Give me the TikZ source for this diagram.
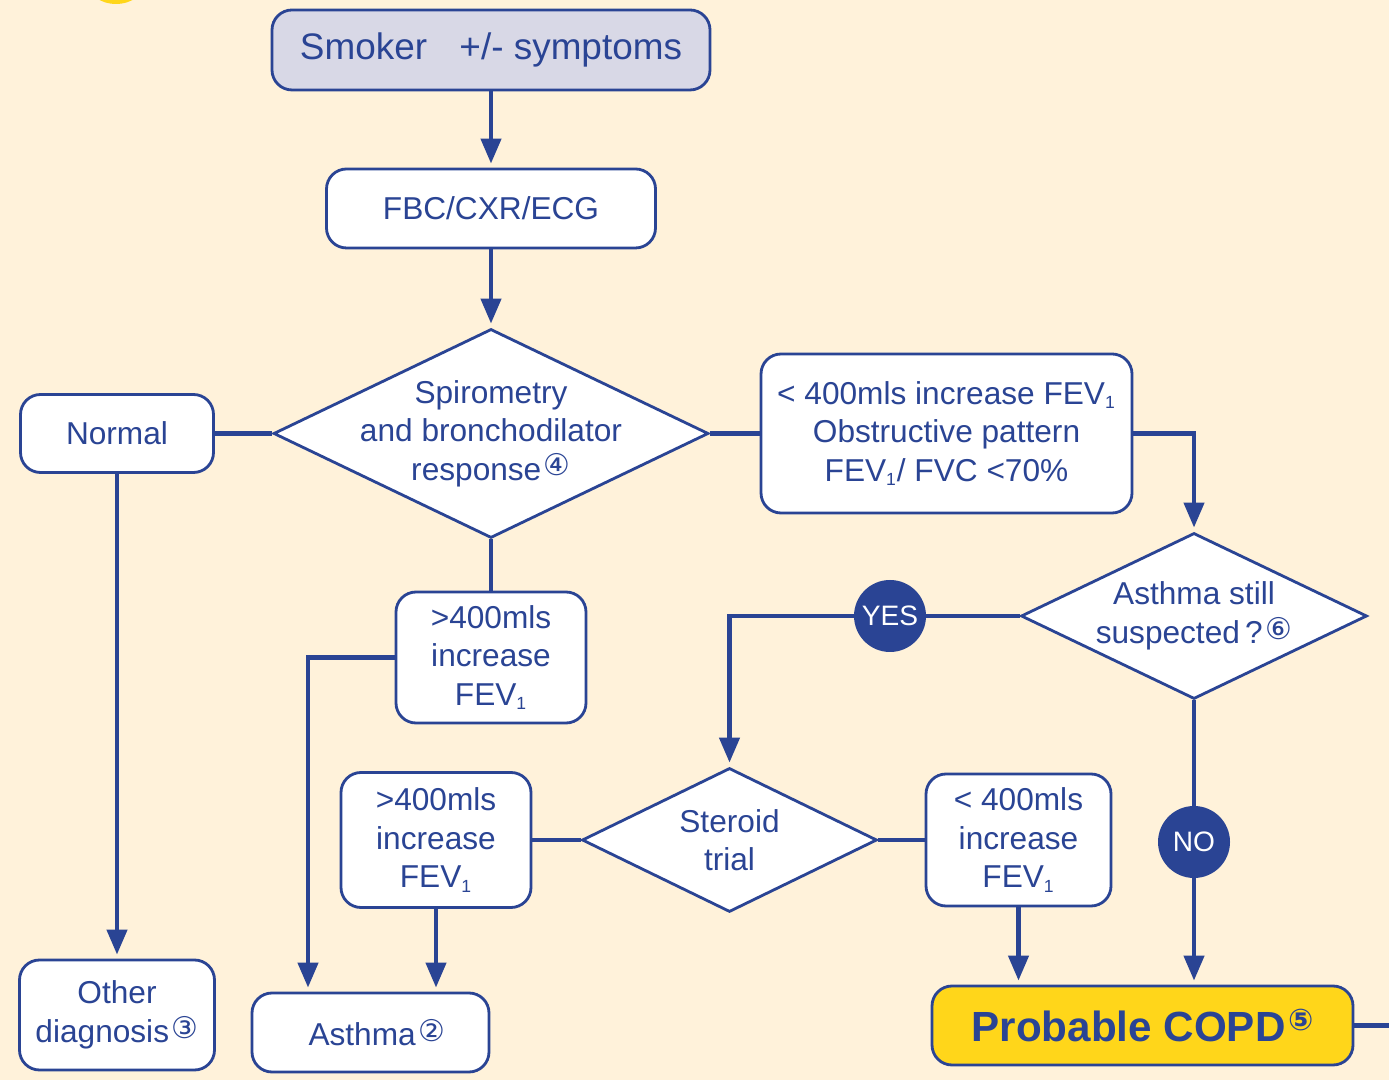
\documentclass[tikz,border=0pt]{standalone}
\usepackage{fontspec}
\setmainfont{Liberation Sans}
\newfontfamily\symfont{DejaVu Sans}
\usetikzlibrary{shapes.geometric, arrows.meta, positioning}
\definecolor{navy}{HTML}{2A4494}
\definecolor{cream}{HTML}{FFF2DA}
\definecolor{copdyellow}{HTML}{FFD61A}
\definecolor{lilac}{HTML}{D8D8E6}
\newcommand{\circnum}[1]{\kern1.5pt\raisebox{2.5pt}{\symfont\fontsize{17}{17}\selectfont#1}}
\newcommand{\one}{\textsubscript{\fontsize{10}{10}\selectfont 1}}

\begin{document}
\begin{tikzpicture}[
    >={Triangle[length=5mm,width=4mm]},
    font=\fontsize{18}{21.9}\selectfont,
    every node/.style={text=navy},
    box/.style={draw=navy, line width=1.6pt, fill=white, rounded corners=4mm, align=center, inner sep=0pt},
    decision/.style={diamond, draw=navy, line width=1.6pt, fill=white, inner sep=0pt},
    answer/.style={circle, fill=navy, text=white, minimum size=14.4mm, inner sep=0pt, font=\fontsize{16}{16}\selectfont},
    link/.style={draw=navy, line width=2.5pt},
    arr/.style={link, ->, shorten >=0.8mm}
]
        \useasboundingbox (0,0) rectangle (27.78,21.6);
        \fill[cream] (0,0) rectangle (27.78,21.6);
        \fill[copdyellow] (2.32,22.0) ellipse (0.6 and 0.48);

        \node[box, fill=lilac, minimum width=87.6mm, minimum height=16mm, font=\fontsize{21}{24}\selectfont] (smoker) at (9.82, 20.6) {Smoker\hspace{0.6em} +/- symptoms};
        \node[box, minimum width=65.8mm, minimum height=15.8mm] (fbc) at (9.82, 17.43) {FBC/CXR/ECG};
        \node[decision, minimum width=87mm, minimum height=41.8mm,
              label={[align=center]center:Spirometry\\and bronchodilator\\response\circnum{④}}] (spiro) at (9.82, 12.93) {};
        \node[box, minimum width=38.6mm, minimum height=15.6mm] (normal) at (2.34, 12.93) {Normal};
        \node[box, minimum width=74.2mm, minimum height=31.8mm] (obst) at (18.93, 12.93) {< 400mls increase FEV\one\\Obstructive pattern\\FEV\one/ FVC <70\%};
        \node[decision, minimum width=69.2mm, minimum height=33.2mm,
              label={[align=center]center:Asthma still\\suspected\,?\circnum{⑥}}] (suspect) at (23.88, 9.28) {};
        \node[box, minimum width=38mm, minimum height=26.2mm] (incA) at (9.82, 8.45) {>400mls\\increase\\FEV\one};
        \node[answer] (yes) at (17.8, 9.28) {YES};
        \node[decision, minimum width=59mm, minimum height=28.8mm,
              label={[align=center]center:Steroid\\trial}] (steroid) at (14.59, 4.8) {};
        \node[box, minimum width=38mm, minimum height=27mm] (incB) at (8.72, 4.8) {>400mls\\increase\\FEV\one};
        \node[box, minimum width=37mm, minimum height=26.4mm] (decB) at (20.37, 4.8) {< 400mls\\increase\\FEV\one};
        \node[answer] (no) at (23.88, 4.76) {NO};
        \node[box, minimum width=39mm, minimum height=22mm] (other) at (2.34, 1.3) {Other\\diagnosis\circnum{③}};
        \node[box, minimum width=47.4mm, minimum height=15.8mm] (asthma) at (7.41, 0.95) {\hspace{0.4em}Asthma\circnum{②}};
        \node[box, fill=copdyellow, minimum width=84.2mm, minimum height=15.8mm, font=\fontsize{24}{28}\selectfont\bfseries] (copd) at (22.85, 1.09) {Probable COPD\raisebox{1.3mm}{\circnum{⑤}}};
        \coordinate (edge) at (27.78, 1.09);

        \draw[arr] (smoker) -- (fbc);
        \draw[arr] (fbc) -- (spiro);
        \draw[link] (normal) -- (spiro);
        \draw[link] (spiro) -- (obst);
        \draw[arr] (normal) -- (other);
        \draw[link] (spiro) -- (incA);
        \draw[arr] (incA.west) -| ([xshift=-12.5mm]asthma.north);
        \draw[arr] (obst.east) -| (suspect.north);
        \draw[link] (suspect) -- (yes);
        \draw[arr] (yes.west) -| (steroid.north);
        \draw[link] (steroid) -- (incB);
        \draw[link] (steroid) -- (decB);
        \draw[arr] (incB.south) -- (incB.south |- asthma.north);
        \draw[arr] (decB.south) -- (decB.south |- copd.north);
        \draw[link] (suspect) -- (no);
        \draw[arr] (no.south) -- (no.south |- copd.north);
        \draw[link] (copd) -- (edge);
\end{tikzpicture}
\end{document}
